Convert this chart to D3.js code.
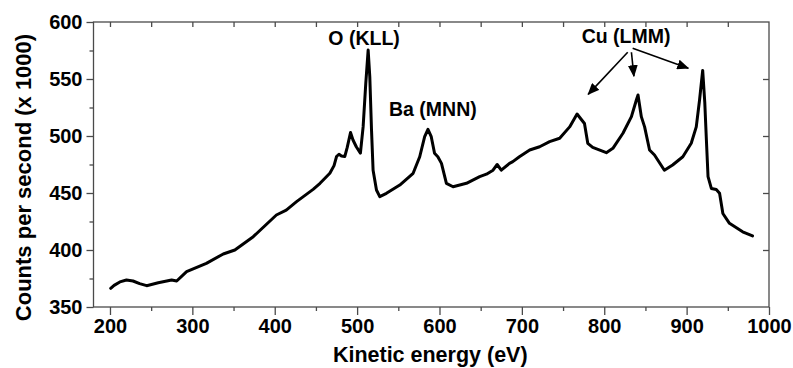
<!DOCTYPE html>
<html><head><meta charset="utf-8">
<script src="https://cdn.jsdelivr.net/npm/d3@7"></script>
<style>
html,body{margin:0;padding:0;background:#fff;}
text{font-family:"Liberation Sans",Arial,sans-serif;font-weight:bold;fill:#000;}
</style></head>
<body>
<svg id="chart" width="793" height="368"></svg>
<script>
const energy = [200.9,205,212,220,228,236,244.5,258.6,274.8,281,293,317,337.5,351.6,373.9,402,414,426.5,446.6,455,466.9,472,475,478,481,485,488,492,495,499,504,507.3,510.5,513.4,515.4,517.5,519.4,523.5,527.5,535.6,551.8,568,576,582,586,590,594,598,602.4,608.4,616.5,632.7,648.8,657,665,670,675,685,689,697,709.5,721.6,733.7,745.9,758,767,776,780,786,802.5,810.5,822.7,833,839,841,845,849,855,861,873,883,895.4,905.6,911.7,915.7,919.5,922,924,926,930,936,940,944,952,968,980];
const counts = [366.4,369,372,373.7,372.8,370.5,368.7,371.3,373.7,372.8,381,388.3,396.5,400,411.7,430.7,435,442.4,453.2,458.5,467.3,474,482,484,482.5,482,490,503,496.5,490.6,485,508,546,575.4,552,505,470,452.6,446.8,449.7,457,467.3,481.8,499.4,505.9,499.4,484.8,481.8,476,458.5,455.5,458.5,464.3,466.5,470,475,470,476,477.5,481.8,487.7,490.6,495,498,508,519.3,511,493.6,490,485.4,489.2,502.4,517,531.6,536,517,508,487.7,483.3,470,474.6,481.8,493.6,508,531.6,557.5,530,496.5,464.3,454,453,449.7,432,423.4,416,412.3];
const xTicks = [200,300,400,500,600,700,800,900,1000];
const yTicks = [350,400,450,500,550,600];
const xLabel = "Kinetic energy (eV)";
const yLabel = "Counts per second (x 1000)";
const annotations = [
  {text:"O (KLL)", x:508.5, y:580},
  {text:"Ba (MNN)", x:592, y:517.5},
  {text:"Cu (LMM)", x:826.5, y:581.5}
];
const cuArrows = [
  {x1:828.5, y1:573.5, x2:780.5, y2:536.5},
  {x1:833, y1:573.5, x2:836, y2:552.5},
  {x1:834.5, y1:577, x2:902, y2:559.5}
];

const svg = d3.select("#chart");
const L=93.5, R=769, T=22, B=307;
const x = d3.scaleLinear().domain([180,1000]).range([L,R]);
const y = d3.scaleLinear().domain([350,600]).range([B,T]);
const axisColor = "#4a4a4a";

svg.append("defs").append("marker")
  .attr("id","arr").attr("viewBox","0 0 12 10").attr("refX",11).attr("refY",5)
  .attr("markerUnits","userSpaceOnUse")
  .attr("markerWidth",12).attr("markerHeight",10).attr("orient","auto")
  .append("path").attr("d","M0,0L12,5L0,10Z").attr("fill","#000");

// frame
svg.append("rect").attr("x",L).attr("y",T).attr("width",R-L).attr("height",B-T)
  .attr("fill","none").attr("stroke",axisColor).attr("stroke-width",1.3);

// bottom axis
const xMinor = d3.range(250,1000,100);
svg.append("g").attr("transform",`translate(0,${B})`)
  .call(d3.axisBottom(x).tickValues(xTicks).tickSize(8).tickPadding(4).tickFormat(d3.format("d")));
svg.append("g").attr("transform",`translate(0,${B})`)
  .call(d3.axisBottom(x).tickValues(xMinor).tickSize(4).tickFormat(""));
// top ticks (inside)
svg.append("g").attr("transform",`translate(0,${T})`)
  .call(d3.axisBottom(x).tickValues(d3.range(200,1000,50)).tickSize(5).tickFormat(""));
// left axis
const yMinor = d3.range(375,600,50);
svg.append("g").attr("transform",`translate(${L},0)`)
  .call(d3.axisLeft(y).tickValues(yTicks).tickSize(7).tickPadding(4).tickFormat(d3.format("d")));
svg.append("g").attr("transform",`translate(${L},0)`)
  .call(d3.axisLeft(y).tickValues(yMinor).tickSize(4).tickFormat(""));
// right ticks (inside)
svg.append("g").attr("transform",`translate(${R},0)`)
  .call(d3.axisRight(y).tickValues(d3.range(400,600,50)).tickSize(-6).tickFormat(""));

svg.selectAll(".domain").attr("stroke","none");
svg.selectAll(".tick line").attr("stroke",axisColor).attr("stroke-width",1.3);
svg.selectAll(".tick text").style("font-size","20px").style("font-family","'Liberation Sans',Arial,sans-serif")
  .style("font-weight","bold").attr("fill","#000");

// axis labels
svg.append("text").attr("x",(L+R)/2 - 1).attr("y",362).attr("text-anchor","middle")
  .style("font-size","21.5px").text(xLabel);
svg.append("text").attr("transform",`translate(31,${(T+B)/2+13}) rotate(-90)`).attr("text-anchor","middle")
  .style("font-size","22px").text(yLabel);

// curve
const pts = energy.map((e,i)=>[e,counts[i]]);
svg.append("path").datum(pts)
  .attr("d", d3.line().x(d=>x(d[0])).y(d=>y(d[1])))
  .attr("fill","none").attr("stroke","#000").attr("stroke-width",3)
  .attr("stroke-linejoin","round").attr("stroke-linecap","round");

// annotations
annotations.forEach(a=>{
  svg.append("text").attr("x",x(a.x)).attr("y",y(a.y)).attr("text-anchor","middle")
    .style("font-size","19.5px").text(a.text);
});
cuArrows.forEach(t=>{
  svg.append("line").attr("x1",x(t.x1)).attr("y1",y(t.y1))
    .attr("x2",x(t.x2)).attr("y2",y(t.y2)).attr("stroke","#000").attr("stroke-width",1.6)
    .attr("marker-end","url(#arr)");
});
</script>
</body></html>
